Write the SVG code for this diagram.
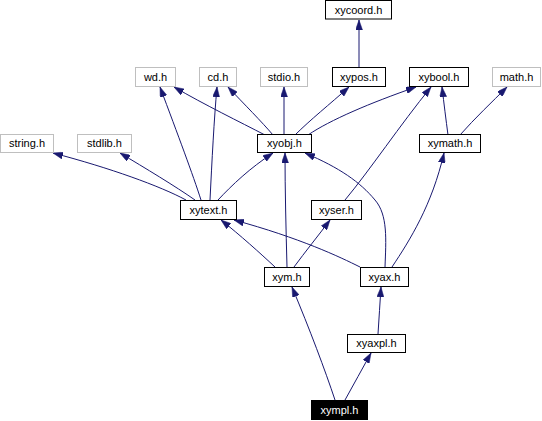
<svg xmlns="http://www.w3.org/2000/svg" width="542" height="421" viewBox="0 0 542 421">
<style>
rect.n{fill:#fff;stroke:#000;stroke-width:1}
rect.g{fill:#fff;stroke:#bfbfbf;stroke-width:1}
rect.k{fill:#000;stroke:#000;stroke-width:1}
text{font-family:"Liberation Sans",Arial,sans-serif;font-size:11px;text-anchor:middle;fill:#000}
text.w{fill:#fff}
.e path{fill:none;stroke:#191970;stroke-width:1;marker-end:url(#ah)}
</style>
<defs>
<marker id="ah" viewBox="0 0 10 7" markerWidth="10" markerHeight="7" refX="10" refY="3.5" orient="auto" markerUnits="userSpaceOnUse">
<path d="M0,0 L10,3.5 L0,7 z" fill="#191970" stroke="#191970" stroke-width="0.5"/>
</marker>
</defs>
<rect width="542" height="421" fill="#fff"/>
<g class="e" id="edges">
<path d="M359,67 L359,20"/>
<path d="M265,135 C240,122 205,105 174,87"/>
<path d="M273,135 C262,122 244,104 228,87"/>
<path d="M284,135 L284,87"/>
<path d="M295,135 C310,120 330,104 349,87"/>
<path d="M308,135 C330,120 370,103 416,87"/>
<path d="M186,200 C160,186 110,168 53,153"/>
<path d="M195,200 C175,186 145,168 120,153"/>
<path d="M201,200 C193,175 178,135 160,87"/>
<path d="M210,200 C212,160 214,120 217,87"/>
<path d="M218,200 C232,185 250,168 273,153"/>
<path d="M448,135 C446,120 444,104 442,87"/>
<path d="M460,135 C475,118 492,102 507,87"/>
<path d="M345,200 C370,170 400,125 431,87"/>
<path d="M275,267 C260,253 240,235 221,220"/>
<path d="M287,267 C286,230 285,190 285,153"/>
<path d="M294,267 C305,252 318,236 330,220"/>
<path d="M360,267 C340,257 300,238 234,220"/>
<path d="M385,267 C386,240 388,215 375,200 C360,182 340,168 305,153"/>
<path d="M392,267 C410,240 432,205 444,153"/>
<path d="M378,334 C379,318 380,303 381,287"/>
<path d="M335,400 C325,370 310,330 292,287"/>
<path d="M345,400 C354,384 362,369 371,353"/>
</g>
<g id="xycoord"><rect class="n" x="325.5" y="0.5" width="66" height="18.5"/><text x="358.5" y="13.5">xycoord.h</text></g>
<g id="wd"><rect class="g" x="135.5" y="67.5" width="40" height="19"/><text x="155.5" y="80.8">wd.h</text></g>
<g id="cd"><rect class="g" x="199.5" y="67.5" width="37" height="19"/><text x="218" y="80.8">cd.h</text></g>
<g id="stdio"><rect class="g" x="260.5" y="67.5" width="47" height="19"/><text x="284" y="80.8">stdio.h</text></g>
<g id="xypos"><rect class="n" x="332.5" y="67.5" width="53" height="19"/><text x="359" y="80.8">xypos.h</text></g>
<g id="xybool"><rect class="n" x="409.5" y="67.5" width="59" height="19"/><text x="439" y="80.8">xybool.h</text></g>
<g id="math"><rect class="g" x="492.5" y="67.5" width="48" height="19"/><text x="516.5" y="80.8">math.h</text></g>
<g id="string"><rect class="g" x="0.5" y="134.5" width="53" height="18"/><text x="27" y="147.3">string.h</text></g>
<g id="stdlib"><rect class="g" x="77.5" y="134.5" width="54" height="18"/><text x="104.5" y="147.3">stdlib.h</text></g>
<g id="xyobj"><rect class="n" x="257.5" y="134.5" width="54" height="18"/><text x="284.5" y="147.3">xyobj.h</text></g>
<g id="xymath"><rect class="n" x="419.5" y="134.5" width="61" height="18"/><text x="450" y="147.3">xymath.h</text></g>
<g id="xytext"><rect class="n" x="180.5" y="200.5" width="56" height="19"/><text x="208.5" y="213.8">xytext.h</text></g>
<g id="xyser"><rect class="n" x="311.5" y="200.5" width="50" height="19"/><text x="336.5" y="213.8">xyser.h</text></g>
<g id="xym"><rect class="n" x="264.5" y="267.5" width="45" height="19"/><text x="287" y="280.8">xym.h</text></g>
<g id="xyax"><rect class="n" x="360.5" y="267.5" width="48" height="19"/><text x="384.5" y="280.8">xyax.h</text></g>
<g id="xyaxpl"><rect class="n" x="347.5" y="334.5" width="58" height="18"/><text x="376.5" y="347.3">xyaxpl.h</text></g>
<g id="xympl"><rect class="k" x="311.5" y="400.5" width="56" height="19"/><text class="w" x="339.5" y="413.8">xympl.h</text></g>
</svg>
